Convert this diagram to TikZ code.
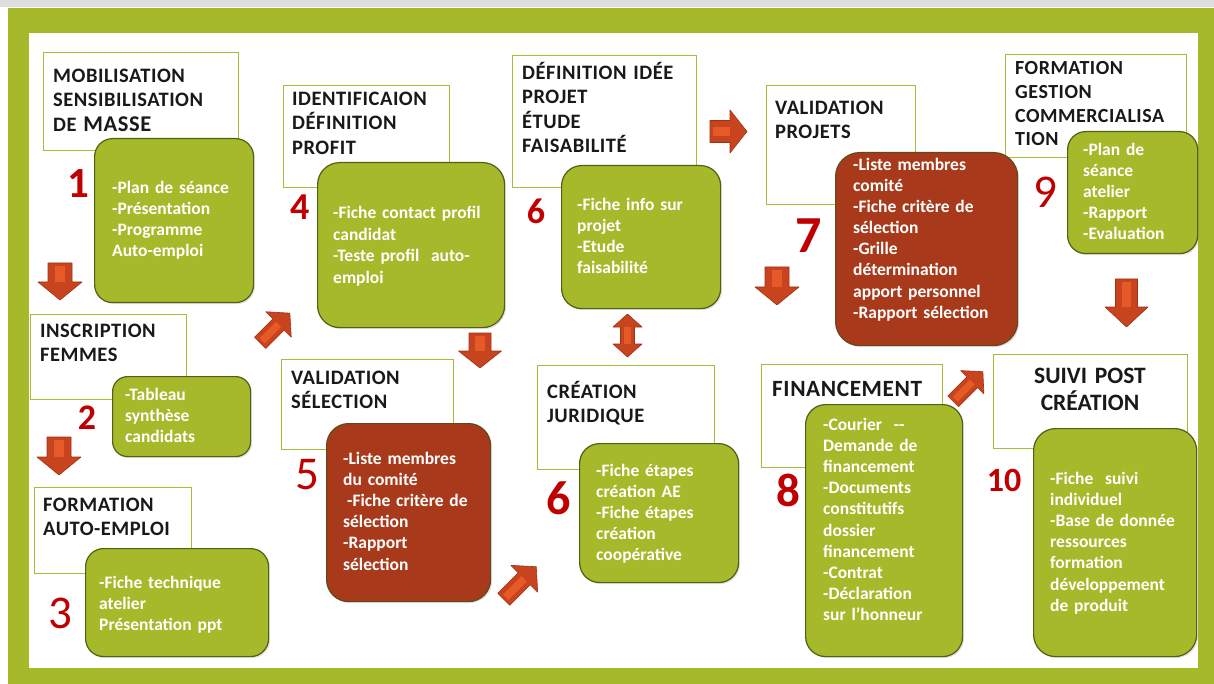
\documentclass[tikz,border=0pt]{standalone}
\usepackage{fontspec}
\setmainfont{Carlito}[WordSpace=0.75]
\newfontfamily\titlefont{Carlito}[LetterSpace=2.5,WordSpace=0.7]
\newfontfamily\titlefontb{Carlito}[WordSpace=0.7]
\usetikzlibrary{shadows}
\definecolor{fgreen}{RGB}{166,185,42}
\definecolor{tborder}{RGB}{168,188,58}
\definecolor{bgreen}{RGB}{166,185,42}
\definecolor{bedge}{RGB}{80,96,22}
\definecolor{bred}{RGB}{168,58,27}
\definecolor{redge}{RGB}{95,75,25}
\definecolor{numred}{RGB}{192,0,0}
\definecolor{arrowc}{RGB}{200,68,30}
\definecolor{arrowl}{RGB}{230,90,40}
\definecolor{arrowe}{RGB}{160,50,20}
\definecolor{tcol}{RGB}{25,25,25}
\definecolor{topgray}{RGB}{222,222,222}
\newcommand\blockarrow[7]{%
 \begin{scope}[shift={(#1,#2)},rotate=#3]
 \pgfmathsetmacro\hL{#4/2}\pgfmathsetmacro\hW{#5/2}\pgfmathsetmacro\hS{#6/2}\pgfmathsetmacro\hB{#4/2-#7}
 \filldraw[fill=arrowc,draw=arrowe,line width=0.6pt,line join=round] (-\hL,-\hS) -- (\hB,-\hS) -- (\hB,-\hW) -- (\hL,0) -- (\hB,\hW) -- (\hB,\hS) -- (-\hL,\hS) -- cycle;
 \fill[arrowl] (-\hL+3,-\hS*0.45) rectangle (\hB,\hS*0.45);
 \end{scope}}
\newcommand\dblarrow[7]{%
 \begin{scope}[shift={(#1,#2)},rotate=#3]
 \pgfmathsetmacro\hL{#4/2}\pgfmathsetmacro\hW{#5/2}\pgfmathsetmacro\hS{#6/2}\pgfmathsetmacro\hB{#4/2-#7}
 \filldraw[fill=arrowc,draw=arrowe,line width=0.6pt,line join=round] (-\hL,0) -- (-\hB,-\hW) -- (-\hB,-\hS) -- (\hB,-\hS) -- (\hB,-\hW) -- (\hL,0) -- (\hB,\hW) -- (\hB,\hS) -- (-\hB,\hS) -- (-\hB,\hW) -- cycle;
 \fill[arrowl] (-\hB,-\hS*0.45) rectangle (\hB,\hS*0.45);
 \end{scope}}
\begin{document}
\begin{tikzpicture}[x=1pt,y=-1pt,
  titlebox/.style={draw=tborder,line width=1.3pt,fill=white,anchor=north west,inner sep=0},
  bodybox/.style={draw=bedge,line width=1.2pt,fill=bgreen,rounded corners=18pt,anchor=north west,inner sep=0,
    drop shadow={opacity=0.22,shadow xshift=1.5pt,shadow yshift=-1.5pt}},
  redbox/.style={bodybox,fill=bred,draw=redge},
  ttext/.style={anchor=base west,inner sep=0,text width=230pt,align=left,text=tcol,font=\titlefont\bfseries\fontsize{20.5}{24.3}\selectfont},
  btext/.style={anchor=base west,inner sep=0,text width=220pt,align=left,text=white,font=\bfseries\fontsize{17.5}{21.1}\selectfont},
  num/.style={inner sep=0,text=numred}]
\useasboundingbox (0,0) rectangle (1214,684);
\fill[white] (0,0) rectangle (1214,684);
\fill[topgray] (0,0) rectangle (1214,7);
\fill[fgreen] (8,8) rectangle (1214,684);
\fill[white] (29,33) rectangle (1198,668);

% title boxes
\node[titlebox,minimum width=195,minimum height=98] (t1) at (43,52) {};
\node[titlebox,minimum width=156,minimum height=85] (t2) at (30,314) {};
\node[titlebox,minimum width=157,minimum height=86] (t3) at (34,487) {};
\node[titlebox,minimum width=166,minimum height=102] (t4) at (283,85) {};
\node[titlebox,minimum width=172,minimum height=90] (t5) at (281,359) {};
\node[titlebox,minimum width=184,minimum height=132] (t6a) at (512,55) {};
\node[titlebox,minimum width=177,minimum height=104] (t6b) at (537,365) {};
\node[titlebox,minimum width=149,minimum height=119] (t7) at (766,85) {};
\node[titlebox,minimum width=181,minimum height=103] (t8) at (761,364) {};
\node[titlebox,minimum width=181,minimum height=103] (t9) at (1005,54) {};
\node[titlebox,minimum width=194,minimum height=94] (t10) at (993,354) {};

% title texts
\node[ttext] (tt1) at (53,82.5) {MOBILISATION\\SENSIBILISATION\\DE {\fontsize{22.5}{24.3}\selectfont MASSE}};
\node[ttext] (tt2) at (40,337.5) {INSCRIPTION\\FEMMES};
\node[ttext] (tt3) at (43,511.5) {FORMATION\\AUTO-EMPLOI};
\node[ttext] (tt4) at (292,105.5) {IDENTIFICAION\\DÉFINITION\\PROFIT};
\node[ttext] (tt5) at (291,384.5) {VALIDATION\\SÉLECTION};
\node[ttext] (tt6a) at (522,79.5) {DÉFINITION IDÉE\\PROJET\\ÉTUDE\\FAISABILITÉ};
\node[ttext] (tt6b) at (547,398.5) {CRÉATION\\JURIDIQUE};
\node[ttext] (tt7) at (775,114.5) {VALIDATION\\PROJETS};
\node[ttext,font=\titlefont\bfseries\fontsize{23.3}{26}\selectfont] (tt8) at (772,396.5) {FINANCEMENT};
\node[ttext,font=\titlefont\bfseries\fontsize{20}{23.8}\selectfont] (tt9) at (1015,74.5) {FORMATION\\GESTION\\COMMERCIALISA\\TION};
\node[ttext,anchor=base,text width=190pt,align=center,font=\titlefontb\bfseries\fontsize{23.5}{27}\selectfont] (tt10) at (1090,383) {SUIVI POST\\CRÉATION};

% body boxes
\node[bodybox,minimum width=159,minimum height=164] (b1) at (94,138) {};
\node[bodybox,rounded corners=15pt,minimum width=138,minimum height=80] (b2) at (112,376) {};
\node[bodybox,minimum width=183,minimum height=108] (b3) at (85,548) {};
\node[bodybox,rounded corners=22pt,minimum width=187,minimum height=165] (b4) at (317,162) {};
\node[redbox,rounded corners=22pt,minimum width=164,minimum height=178] (b5) at (326,423) {};
\node[bodybox,rounded corners=20pt,minimum width=159,minimum height=143] (b6a) at (561,165) {};
\node[bodybox,rounded corners=20pt,minimum width=159,minimum height=139] (b6b) at (579,443) {};
\node[redbox,rounded corners=24pt,minimum width=182,minimum height=193] (b7) at (835,152) {};
\node[bodybox,rounded corners=20pt,minimum width=157,minimum height=252] (b8) at (805,404) {};
\node[bodybox,rounded corners=18pt,minimum width=130,minimum height=122] (b9) at (1067,131) {};
\node[bodybox,rounded corners=22pt,minimum width=163,minimum height=228] (b10) at (1033,428) {};

% body texts
\node[btext] (bt1) at (112,193.5) {-Plan de séance\\-Présentation\\-Programme\\Auto-emploi};
\node[btext] (bt2) at (125,400.5) {-Tableau\\synthèse\\candidats};
\node[btext] (bt3) at (99,588.5) {-Fiche technique\\atelier\\Présentation ppt};
\node[btext,font=\bfseries\fontsize{17.5}{21.7}\selectfont] (bt4) at (333,218.5) {-Fiche contact profil\\candidat\\-Teste profil\ \ auto-\\emploi};
\node[btext] (bt5) at (343,464.5) {-Liste membres\\du comité\\\hspace*{4pt}-Fiche critère de\\sélection\\-Rapport\\sélection};
\node[btext] (bt6a) at (577,210.5) {-Fiche info sur\\projet\\-Etude\\faisabilité};
\node[btext] (bt6b) at (596,476.5) {-Fiche étapes\\création AE\\-Fiche étapes\\création\\coopérative};
\node[btext] (bt7) at (853,170.5) {-Liste membres\\comité\\-Fiche critère de\\sélection\\-Grille\\détermination\\apport personnel\\-Rapport sélection};
\node[btext] (bt8) at (823,430.5) {-Courier\ \ -{}-\\Demande de\\financement\\-Documents\\constitutifs\\dossier\\financement\\-Contrat\\-Déclaration\\sur l’honneur};
\node[btext] (bt9) at (1083,155.5) {-Plan de\\séance\\atelier\\-Rapport\\-Evaluation};
\node[btext] (bt10) at (1050,484.5) {-Fiche\ \ suivi\\individuel\\-Base de donnée\\ressources\\formation\\développement\\de produit};

% numbers
\node[num,font=\bfseries\fontsize{43}{43}\selectfont] (n1) at (78.5,183.5) {1};
\node[num,font=\bfseries\fontsize{36}{36}\selectfont] (n2) at (87,417.5) {2};
\node[num,font=\fontsize{47}{47}\selectfont] (n3) at (60.5,613.5) {3};
\node[num,font=\bfseries\fontsize{38}{38}\selectfont] (n4) at (300.5,207) {4};
\node[num,font=\fontsize{47}{47}\selectfont] (n5) at (307,475) {5};
\node[num,font=\bfseries\fontsize{36}{36}\selectfont] (n6a) at (536,211.5) {6};
\node[num,font=\bfseries\fontsize{48}{48}\selectfont] (n6b) at (558.5,498) {6};
\node[num,font=\bfseries\fontsize{52}{52}\selectfont] (n7) at (809,236) {7};
\node[num,font=\bfseries\fontsize{47}{47}\selectfont] (n8) at (788.5,490) {8};
\node[num,font=\fontsize{47}{47}\selectfont] (n9) at (1045,192) {9};
\node[num,font=\bfseries\fontsize{34}{34}\selectfont] (n10) at (1004,480.5) {10};

% block arrows
\blockarrow{60}{281.5}{-90}{37}{44}{24}{18}
\blockarrow{59}{456}{-90}{38}{44}{24}{18}
\blockarrow{275}{328}{45}{42}{36}{16}{16}
\blockarrow{480}{350.5}{-90}{35}{43}{22}{17}
\blockarrow{520}{583}{45}{46}{38}{17}{17}
\blockarrow{728.5}{131.5}{0}{37}{43}{22}{17}
\dblarrow{627.5}{335.5}{90}{43}{29}{14}{13}
\blockarrow{777}{286}{-90}{38}{44}{24}{18}
\blockarrow{968}{386.5}{45}{42}{33}{15}{15}
\blockarrow{1126.5}{303}{-90}{48}{43}{22}{20}
\end{tikzpicture}
\end{document}
